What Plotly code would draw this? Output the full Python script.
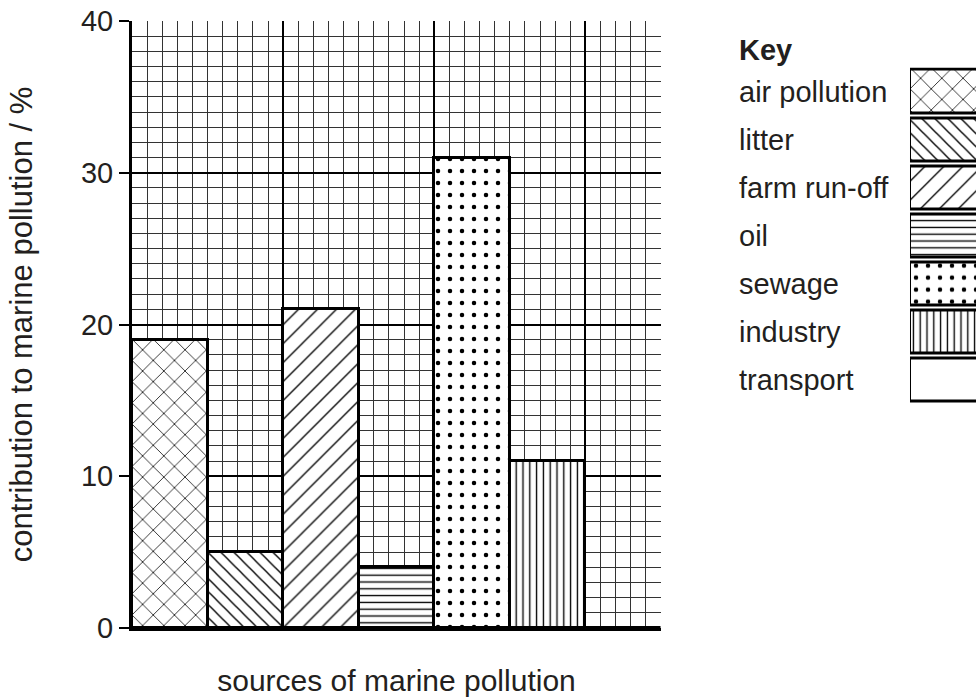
import plotly.graph_objects as go

sources = ["air pollution", "litter", "farm run-off", "oil", "sewage", "industry", "transport"]
contribution = [19, 5, 21, 4, 31, 11, 0]
patterns = ["x", "\\", "/", "-", ".", "|", ""]
pattern_sizes = [15, 9.2, 13.4, 6.8, 12, 6.8, 10]
pattern_solidity = [0.1, 0.15, 0.1, 0.2, 0.11, 0.2, 0.1]
y_ticks = [0, 10, 20, 30, 40]

FONT = "Liberation Sans, Arial, Helvetica, sans-serif"
TXT = "#231f20"
FS = 29

fig = go.Figure()

positions = [i + 0.5 for i in range(len(sources))]
pattern = dict(shape=patterns, size=pattern_sizes, solidity=pattern_solidity,
               fgcolor="black", bgcolor="white", fgopacity=1, fillmode="overlay")
fig.add_trace(go.Bar(
    x=positions, y=contribution, width=1,
    marker=dict(color="white", line=dict(color="black", width=3), pattern=pattern),
    xaxis="x", yaxis="y", showlegend=False, hoverinfo="skip",
))

# key boxes
fig.add_trace(go.Bar(
    y=sources, x=[2] * len(sources), orientation="h", width=0.9,
    marker=dict(color="white", line=dict(color="black", width=3), pattern=pattern),
    xaxis="x2", yaxis="y2", showlegend=False, hoverinfo="skip",
))

annotations = [dict(text="<b>Key</b>", xref="paper", yref="paper", x=0.7168, y=0.952,
                    xanchor="left", yanchor="middle", showarrow=False,
                    font=dict(family=FONT, size=FS, color=TXT))]
for s in sources:
    annotations.append(dict(text=s, xref="paper", yref="y2", x=0.7168, y=s,
                            xanchor="left", yanchor="middle", showarrow=False,
                            font=dict(family=FONT, size=FS, color=TXT)))

fig.update_layout(
    width=976, height=700,
    margin=dict(l=132, r=0, t=21, b=72),
    paper_bgcolor="white", plot_bgcolor="white",
    font=dict(family=FONT, size=FS, color=TXT),
    bargap=0,
    xaxis=dict(domain=[0, 0.6268], range=[0, 7], dtick=2, tick0=0,
               showticklabels=False, ticks="",
               showgrid=True, gridcolor="black", gridwidth=2,
               minor=dict(dtick=0.2, showgrid=True, gridcolor="#333", gridwidth=1),
               showline=True, linecolor="black", linewidth=3, zeroline=False,
               automargin=False,
               title=dict(text="sources of marine pollution", standoff=40,
                          font=dict(family=FONT, size=30, color=TXT)),
               fixedrange=True),
    yaxis=dict(range=[0, 40], tickvals=y_ticks, ticks="outside", ticklen=10, tickwidth=2,
               tickcolor="black", tickfont=dict(family=FONT, size=FS, color=TXT),
               showgrid=True, gridcolor="black", gridwidth=2,
               minor=dict(dtick=1, showgrid=True, gridcolor="#333", gridwidth=1),
               showline=True, linecolor="black", linewidth=3, zeroline=False,
               automargin=False,
               title=dict(text="contribution to marine pollution / %", standoff=40,
                          font=dict(family=FONT, size=31, color=TXT)),
               fixedrange=True),
    xaxis2=dict(domain=[0.9218, 1], range=[0, 1], visible=False, anchor="y2", fixedrange=True),
    yaxis2=dict(domain=[0.3684, 0.9232], type="category", categoryorder="array",
                categoryarray=sources, autorange="reversed", visible=False,
                anchor="x2", fixedrange=True),
    annotations=annotations,
)

fig.write_html("out.html", config={"displayModeBar": False},
               post_script="document.body.style.margin='0';document.body.style.overflow='hidden';")
